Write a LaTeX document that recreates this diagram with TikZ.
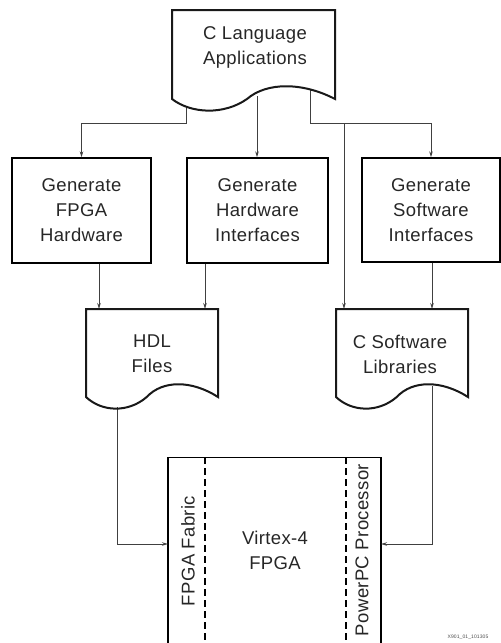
\documentclass[tikz,border=0pt]{standalone}
\usepackage{fontspec}
\setmainfont{Liberation Sans}[LetterSpace=2]
\usetikzlibrary{arrows.meta}
\newcommand{\docshape}[4]{% L R T B
  \draw[docline] (#1,#3) -- (#2,#3) -- (#2,#4)
    .. controls ({#1+0.80*(#2-#1)},{#4-17}) and ({#1+0.58*(#2-#1)},{#4-17}) .. ({#1+0.46*(#2-#1)},#4)
    .. controls ({#1+0.32*(#2-#1)},{#4+16}) and ({#1+0.12*(#2-#1)},{#4+15}) .. (#1,#4) -- cycle;}
\begin{document}
\begin{tikzpicture}[x=1pt,y=-1pt,
  lbl/.style={font=\fontsize{18.5}{25}\selectfont, align=center, text=black!85},
  boxst/.style={draw, line width=1.4pt, lbl, inner sep=0pt},
  conn/.style={line width=0.9pt, draw=black!75, -{Stealth[length=6pt,width=3.5pt]}},
  docline/.style={line width=2pt, draw=black!90}]
\useasboundingbox (0,0) rectangle (501,643);
\clip (0,0) rectangle (501,643);

% process boxes
\node[boxst, minimum width=139pt, minimum height=105pt] (box1) at (81.5,210.5) {Generate\\FPGA\\Hardware};
\node[boxst, minimum width=141pt, minimum height=105pt] (box2) at (257.5,210.5) {Generate\\Hardware\\Interfaces};
\node[boxst, minimum width=138pt, minimum height=104pt] (box3) at (431,210) {Generate\\Software\\Interfaces};

% document labels
\node[lbl] (cl) at (255,47) {C Language\\Applications};
\node[lbl] (hdl) at (152,354) {HDL\\Files};
\node[lbl] (csw) at (400,354) {C Software\\Libraries};

% connector anchor points
\coordinate (clL) at (186,106);
\coordinate (clM) at (257,96);
\coordinate (clR) at (310,89);
\coordinate (brL) at (186,123);
\coordinate (brR) at (310,123);
\coordinate (br) at (344,123);
\coordinate (hdlA) at (99,309);
\coordinate (hdlC) at (205,309);
\coordinate (cswA) at (344,309);
\coordinate (cswC) at (432,309);
\coordinate (hdlB) at (117,407);
\coordinate (cswB) at (432,386);
\coordinate (fl) at (168,544);
\coordinate (fr) at (381,544);

% FPGA
\node[draw, line width=1.4pt, minimum width=213pt, minimum height=220pt, anchor=north, inner sep=0pt] (fpga) at (274.5,457) {};
\draw[line width=1.2pt, dash pattern=on 7pt off 4pt] (205,457) -- (205,643);
\draw[line width=1.2pt, dash pattern=on 7pt off 4pt] (346,457) -- (346,643);
\node[lbl, rotate=90] (fab) at (188,551) {FPGA Fabric};
\node[lbl, rotate=90] (ppc) at (362,550) {PowerPC Processor};
\node[lbl] (vx) at (275,550) {Virtex-4\\FPGA};

% connectors
\draw[conn] (clL) -- (brL) -| (box1.north);
\draw[conn] (clM) -- (clM |- box2.north);
\draw[conn] (clR) -- (brR) -| (box3.north);
\draw[conn] (br) -- (cswA);
\draw[conn] (hdlA |- box1.south) -- (hdlA);
\draw[conn] (hdlC |- box2.south) -- (hdlC);
\draw[conn] (cswC |- box3.south) -- (cswC);
\draw[conn] (hdlB) |- (fl);
\draw[conn] (cswB) |- (fr);

% document shapes
\docshape{172}{335}{10}{99}
\docshape{86}{218}{309}{397}
\docshape{336}{468}{309}{397}

\node[font=\fontsize{5}{6}\selectfont, text=black!70] (fig) at (468,637) {X901\_01\_101305};
\end{tikzpicture}
\end{document}
